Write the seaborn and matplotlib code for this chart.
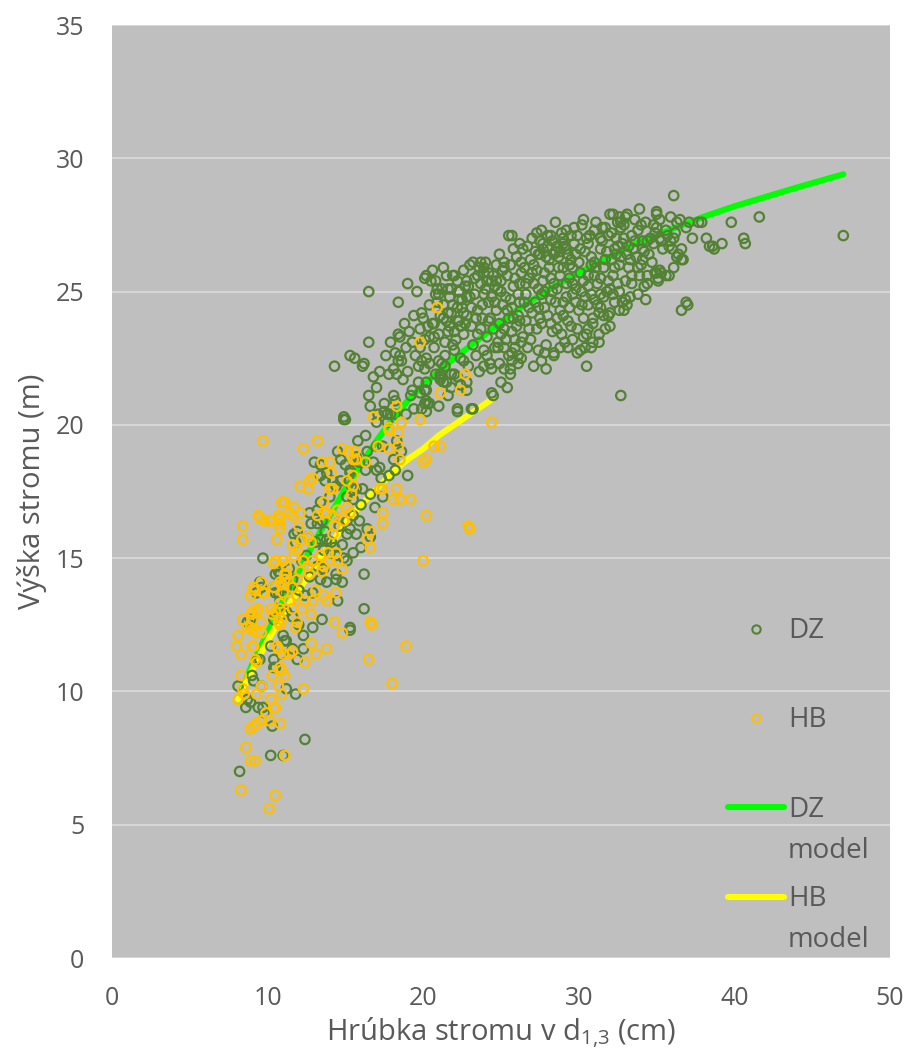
import numpy as np
import pandas as pd
import matplotlib
matplotlib.use("Agg")
import matplotlib.pyplot as plt
import seaborn as sns
from matplotlib.lines import Line2D
from matplotlib.legend_handler import HandlerLine2D

# ---------------- data ----------------
dz_points = [
    # low cluster
    (9.7,15.0),(10.7,14.5),(10.8,14.4),(9.5,14.1),(9.6,13.9),(9.3,13.7),(10.4,13.9),(10.7,13.7),(10.4,12.7),(11.0,12.9),
    (11.0,12.1),(11.1,11.9),(10.2,11.7),(10.4,11.2),(10.4,10.9),(9.5,11.2),(9.3,11.2),(9.0,10.6),(8.1,10.2),(8.7,9.7),
    (8.9,9.6),(8.6,9.4),(9.4,9.4),(9.8,9.2),(10.3,8.7),(10.2,7.6),(11.0,7.6),(8.2,7.0),(9.1,10.4),(9.6,10.2),
    (8.9,12.7),(8.7,12.6),(12.9,12.4),(15.3,12.3),(12.3,12.1),(11.2,11.9),(11.6,11.6),(12.3,11.6),(10.9,11.4),(11.9,11.2),
    (11.2,10.1),(11.8,9.9),(9.7,9.4),(12.4,8.2),(10.5,10.9),
    # 11-17 cm
    (17.0,21.4),(16.5,21.1),(18.1,21.1),(18.2,20.9),(19.3,21.3),(19.8,21.2),(20.2,21.3),(20.2,20.9),(20.1,20.8),(19.9,20.6),
    (20.4,20.8),(19.2,21.1),(17.5,20.8),(17.1,20.4),(17.7,20.4),(17.0,20.1),(14.9,20.2),(15.0,20.2),(21.0,20.7),(22.2,20.5),
    (21.1,21.7),(21.5,21.6),(16.3,19.6),(17.0,19.2),(17.4,19.2),(18.3,19.4),(16.4,19.0),(16.8,18.6),(17.0,18.3),(17.2,18.4),
    (18.1,18.7),(19.0,18.1),(13.0,18.6),(13.4,18.5),(13.7,17.9),(14.2,17.9),(15.3,18.2),(15.2,17.9),(10.5,14.4),(11.7,15.9),
    (11.9,16.0),(11.8,15.6),(12.8,16.3),(13.2,16.3),(13.5,16.4),(12.7,16.7),(13.2,16.8),(13.4,17.1),(14.0,17.3),(14.4,17.7),
    (14.7,17.9),(15.1,17.3),(15.5,17.2),(15.7,17.6),(14.7,18.7),(15.0,18.5),(15.3,18.3),(15.7,18.8),(15.9,18.6),(13.4,18.1),
    (13.8,18.2),(15.1,16.4),(15.5,16.6),(15.9,16.4),(15.3,16.1),(15.7,15.9),(15.1,15.9),(16.4,16.1),(16.6,15.8),(13.4,15.7),
    (13.8,15.7),(14.1,15.6),(14.3,15.4),(13.6,15.3),(14.0,15.2),(14.4,15.1),(15.5,15.2),(15.1,14.9),(14.4,14.4),(13.2,14.7),
    (12.7,14.3),(13.4,14.2),(13.8,14.1),(14.4,14.2),(14.5,13.4),(16.2,13.1),(12.9,13.7),(12.0,13.8),(11.2,13.9),(10.5,13.7),
    (10.8,13.4),(11.2,13.0),(11.6,12.8),(12.0,12.5),(13.5,12.7),(15.3,12.4),(12.2,14.9),(11.4,14.6),(12.5,15.1),(12.9,14.9),
    (16.2,14.4),(14.8,14.1),(16.6,17.4),(16.0,17.0),(17.4,17.3),(18.2,18.3),(16.9,16.9),
    (13.7,16.0),(14.6,16.2),(14.8,15.5),(13.1,15.6),(12.6,15.8),(14.2,16.6),(15.4,17.7),(16.1,17.6),(16.3,18.3),(14.5,19.0),
    (15.8,19.4),(13.6,14.6),(12.4,13.6),(11.6,14.2),(14.9,15.0),(16.0,15.4),(17.3,18.0),(18.6,19.0),(17.8,18.1),
    # 14-26 cm upper-left band
    (16.5,25.0),(18.4,24.6),(19.0,25.3),(20.2,25.6),(20.1,25.5),(20.5,25.4),(20.9,25.1),(20.8,24.9),(21.5,25.6),(22.0,25.6),
    (22.2,25.4),(21.6,25.1),(21.8,25.1),(22.3,25.0),(22.8,25.4),(22.9,25.2),(23.2,26.1),(23.7,26.1),(23.9,25.9),(25.2,25.9),
    (25.7,27.1),(26.2,26.8),(23.9,25.7),(24.5,25.6),(24.7,25.4),(24.1,25.4),(19.9,24.2),(20.4,24.5),(20.7,23.8),(21.1,24.1),
    (20.3,23.7),(19.8,23.6),(21.6,24.2),(22.2,24.4),(22.5,24.7),(22.8,24.8),(22.6,24.2),(22.3,23.9),(21.7,23.7),(22.0,23.5),
    (18.4,23.4),(18.5,23.3),(17.9,23.1),(18.2,22.7),(18.5,22.6),(18.6,22.4),(18.4,22.4),(16.5,23.1),(15.3,22.6),(15.6,22.5),
    (16.2,22.3),(16.1,22.2),(14.3,22.2),(19.3,23.1),(19.8,22.9),(20.1,23.2),(20.4,23.3),(19.5,22.6),(19.9,22.4),(20.2,22.5),
    (20.4,22.3),(20.1,22.1),(19.7,22.2),(21.2,22.3),(21.4,22.2),(21.1,21.8),(21.3,21.6),(21.8,21.9),(22.2,21.8),(22.8,21.6),
    (22.8,21.3),(17.8,21.9),(18.3,21.9),(18.7,21.7),(19.7,21.6),(20.2,21.6),(20.1,21.3),(16.6,20.7),(20.3,20.8),(20.2,20.5),
    (17.5,20.5),(17.9,20.4),(18.2,20.4),(17.7,20.1),(21.6,21.1),(25.0,21.6),(25.4,21.4),(24.5,21.1),(23.2,20.6),(22.2,20.6),
    (14.9,20.3),(18.9,20.4),(19.4,20.6),(25.7,22.4),(26.1,22.3),(25.6,21.9),(25.2,22.1),(24.4,22.1),(24.1,22.6),(24.3,22.3),
    (23.9,22.2),(25.2,22.9),(25.9,23.2),(26.3,23.1),(25.7,22.7),(24.8,23.1),
    (18.8,23.8),(19.4,24.1),(19.1,23.5),(18.9,22.9),(17.2,22.0),(17.6,22.6),(16.8,21.8),(19.0,22.0),(18.1,22.1),(20.7,23.3),
    (20.0,24.0),(21.0,24.9),(19.6,25.0),(20.6,25.8),(21.3,25.9),
    # right part
    (36.1,28.6),(47.0,27.1),(41.6,27.8),(39.8,27.6),(40.6,27.0),(40.7,26.8),(39.2,26.8),(38.2,27.0),(38.4,26.7),(38.7,26.6),
    (37.3,27.0),(37.0,24.5),(36.6,24.3),(37.9,27.6),(37.7,27.6),(37.1,27.6),(36.9,27.4),(35.0,27.9),(34.3,27.6),(33.9,28.1),
    (35.2,27.7),(35.0,27.4),(35.9,27.8),(36.3,27.6),(35.7,27.1),(35.9,26.9),(34.9,27.2),(34.6,27.0),(34.4,26.9),(34.8,26.8),
    (34.1,26.6),(34.1,26.2),(34.7,26.1),(36.0,26.6),(36.6,26.6),(36.4,26.4),(36.3,26.3),(36.6,26.2),(36.1,25.9),(34.4,25.6),
    (34.4,25.3),(35.0,25.7),(35.3,25.7),(35.6,25.6),(35.1,25.5),(28.5,27.6),(25.5,27.1),(32.0,27.9),(32.2,27.9),(32.6,27.8),
    (33.1,27.9),(32.5,27.6),(32.9,27.5),(32.7,27.4),(35.0,28.0),(36.5,27.7),(30.2,27.5),(31.5,27.4),(29.2,27.3),(30.7,27.1),
    (29.9,27.1),(29.5,27.1),(27.3,27.2),(28.2,27.1),(27.5,26.9),(28.0,26.7),(28.6,26.7),(29.0,26.8),(29.2,26.6),(28.8,26.5),
    (28.4,26.4),(27.7,26.6),(27.4,26.4),(35.2,27.0),(36.1,27.0),(35.8,26.7),(35.4,26.6),(38.6,26.7),(36.7,26.2),(35.2,25.8),
    (34.9,25.7),(35.1,25.4),(35.8,25.6),(36.9,24.6),(32.7,21.1),(30.5,22.2),(27.1,22.2),(25.6,22.1),(24.4,21.2),(23.1,20.6),
    (28.4,22.6),(27.8,22.7),(29.9,22.7),(30.4,22.9),(30.9,23.1),(31.3,23.1),(33.1,24.5),(32.8,24.6),(32.0,24.2),(31.4,24.4),
    (31.6,24.1),(30.9,24.0),(30.5,23.4),(30.6,23.6),
    # dense core 21-34 cm
    (20.7,22.9),(21.0,23.4),(21.3,24.0),(20.9,24.6),(21.2,25.1),(21.4,22.6),(20.6,23.8),(21.1,21.9),(21.4,23.1),(20.8,25.4),
    (21.3,24.5),(21.6,23.5),(21.8,24.2),(22.0,22.8),(22.2,23.9),(22.3,25.0),(22.5,24.4),(21.9,25.6),(22.4,22.5),(22.1,23.2),
    (21.7,24.8),(22.4,23.7),(22.0,21.9),(22.6,23.4),(22.8,24.1),(23.0,24.8),(23.2,23.0),(23.3,25.5),(23.5,24.3),(22.7,25.2),
    (23.1,23.7),(23.4,22.6),(22.9,22.2),(23.6,25.9),(23.3,24.9),(23.0,26.0),(23.7,23.6),(23.8,24.5),(24.0,25.1),(24.1,23.3),
    (24.3,24.0),(24.4,24.8),(24.2,25.7),(23.9,22.8),(24.5,23.6),(24.0,26.1),(24.3,22.3),(24.6,25.2),(23.8,24.0),(24.7,24.3),
    (24.9,23.8),(25.0,25.0),(25.1,24.5),(25.3,23.2),(25.4,25.6),(25.2,26.1),(24.8,22.9),(25.5,24.0),(25.0,25.4),(25.3,24.8),
    (24.9,26.4),(25.5,22.6),(25.2,23.6),(24.8,25.1),(25.7,24.4),(25.8,25.2),(26.0,23.7),(26.1,24.9),(26.3,25.7),(26.4,23.3),
    (26.0,26.3),(25.9,22.9),(26.5,24.6),(26.2,25.3),(25.6,26.0),(26.4,26.6),(26.1,24.1),(25.7,23.5),(26.3,22.5),(26.6,24.9),
    (26.8,25.5),(27.0,24.2),(27.1,26.0),(27.3,23.6),(27.4,25.1),(26.7,26.7),(27.2,24.6),(26.9,23.2),(27.5,26.4),(27.0,27.0),
    (27.3,25.8),(26.6,23.9),(27.4,22.8),(26.8,24.4),(27.6,24.9),(27.8,25.7),(28.0,24.1),(28.1,26.2),(28.3,23.5),(28.4,25.3),
    (27.7,26.8),(28.2,24.7),(27.9,23.0),(28.5,26.5),(28.0,27.1),(28.3,25.0),(27.6,23.8),(28.4,22.7),(27.8,24.4),(28.1,25.9),
    (28.6,25.1),(28.8,24.3),(29.0,25.9),(29.1,26.7),(29.3,23.9),(29.4,25.5),(28.7,26.3),(29.2,24.8),(28.9,23.4),(29.5,26.2),
    (29.0,27.0),(29.3,22.9),(28.6,24.0),(29.4,24.4),(28.8,25.6),(29.1,23.1),(29.6,25.3),(29.8,24.6),(30.0,26.1),(30.1,25.7),
    (30.3,24.0),(30.4,26.5),(29.7,26.8),(30.2,25.0),(29.9,23.6),(30.5,27.0),(30.0,24.3),(30.3,23.3),(29.6,25.9),(30.4,24.8),
    (30.1,22.8),(30.6,25.6),(30.8,26.3),(31.0,24.7),(31.1,25.9),(31.3,24.2),(31.4,26.6),(30.7,27.1),(31.2,25.3),(30.9,23.8),
    (31.5,26.9),(31.0,27.3),(31.3,23.4),(30.6,24.5),(31.4,25.5),(30.8,26.0),(31.6,25.9),(31.8,26.5),(32.0,25.1),(32.1,26.2),
    (32.3,24.6),(32.4,27.0),(31.7,27.4),(32.2,25.6),(31.9,24.1),(32.5,26.7),(32.0,23.7),(32.3,25.9),(31.6,24.8),(32.4,26.4),
    (32.6,26.0),(32.8,26.8),(33.0,25.4),(33.1,26.4),(33.3,24.8),(33.4,27.1),(32.7,27.6),(33.2,25.9),(32.9,24.3),(33.5,26.6),
    (33.0,27.8),(33.3,26.2),(32.6,25.0),(33.7,26.3),(33.9,25.6),(34.1,26.9),(34.3,24.7),(33.8,27.3),(34.2,25.2),(34.0,26.0),
    (33.6,27.7),
    (21.9,24.5),(22.6,25.8),(23.4,24.0),(23.7,25.3),(24.2,24.6),(24.6,22.9),(25.1,25.8),(25.6,24.7),(25.9,25.5),(26.2,23.9),
    (26.5,25.9),(26.8,23.6),(27.1,25.3),(27.2,26.5),(27.5,24.0),(27.7,25.4),(27.9,26.3),(28.2,23.8),(28.5,24.6),(28.7,25.9),
    (29.0,24.6),(29.2,25.3),(29.5,23.7),(29.6,24.9),(29.8,26.4),(30.1,26.6),(30.3,25.4),(30.6,26.8),(30.8,24.9),(31.0,26.1),
    (31.2,24.5),(31.4,27.0),(31.7,26.2),(31.9,25.4),(32.1,27.2),(32.3,26.6),(32.5,25.3),(32.7,26.3),(32.9,27.0),(33.2,26.7),
    (33.4,25.6),(33.6,26.9),(33.8,24.9),(34.0,27.5),(34.2,26.5),(34.5,26.4),(34.8,27.5),(35.3,26.9),(35.6,27.3),(36.2,27.2),
    (21.0,22.4),(21.5,23.9),(21.9,23.0),(22.3,24.7),(22.7,23.8),(23.1,24.4),(23.5,23.4),(23.9,24.9),(24.2,23.9),(24.6,24.6),
    (25.0,23.4),(25.4,24.3),(25.8,24.0),(26.2,24.6),(26.6,25.3),(27.0,25.7),(27.4,24.4),(27.8,25.0),(28.2,25.5),(28.6,23.6),
    (29.0,24.1),(29.4,26.0),(29.8,25.1),(30.2,24.5),(30.6,25.2),(31.0,25.6),(31.4,24.9),(31.8,25.0),(32.2,24.9),(32.6,24.3),
    (33.0,24.7),(33.4,25.3),(33.8,25.9),(26.9,26.2),(27.6,27.3),(28.3,26.9),(29.7,27.4),(30.3,27.7),(31.1,27.6),(31.9,27.1),
    (29.3,26.4),(28.9,27.2),(26.3,26.1),(25.8,26.6),(24.7,26.0),(24.4,25.4),(23.5,25.6),(26.7,22.9),(27.6,22.4),(28.8,22.9),
    (29.6,23.2),(30.8,22.9),(31.7,23.6),(27.9,22.1),(26.1,22.6),(24.9,22.3),(23.6,22.0),(22.6,22.4),(22.4,21.5),(21.8,21.4),
    (20.8,21.9),
]

hb_points = [
    (9.7,19.4),(10.9,17.1),(11.1,17.1),(9.5,16.5),(9.8,16.4),(10.2,16.4),(10.8,16.5),(10.8,16.3),(10.8,16.1),(8.4,16.2),
    (8.4,15.7),(10.6,15.7),(10.4,14.8),(11.0,14.9),(11.2,14.7),(8.9,13.6),(9.1,13.8),(9.6,14.1),(9.8,13.7),(10.8,14.1),
    (11.1,14.4),(9.0,13.0),(9.3,13.0),(8.4,12.7),(8.7,12.4),(9.0,12.3),(9.6,12.6),(10.2,13.1),(10.5,13.0),(10.8,13.3),
    (10.9,12.7),(10.7,12.6),(8.1,12.1),(8.0,11.7),(8.3,11.4),(9.0,11.7),(9.3,12.2),(9.6,12.2),(10.6,11.7),(10.7,11.6),
    (11.0,11.4),(10.8,10.9),(11.1,10.6),(10.3,10.6),(8.3,10.6),(8.4,10.1),(8.1,9.7),(9.3,9.9),(9.6,10.2),(10.2,9.7),
    (10.7,10.2),(10.9,9.9),(10.5,9.4),(9.9,9.2),(10.1,8.9),(9.6,8.9),(9.3,8.8),(8.9,8.6),(9.1,8.7),(10.8,8.8),
    (8.6,7.9),(8.9,7.4),(9.2,7.4),(11.1,7.6),(8.3,6.3),(10.5,6.1),(10.1,5.6),
    (8.9,12.4),(10.8,12.5),(11.8,12.4),(14.3,12.6),(16.7,12.5),(14.8,12.2),(9.1,11.7),(11.4,11.4),(11.6,11.5),
    (12.8,11.8),(13.1,11.4),(13.8,11.6),(12.4,11.1),(9.2,11.2),(9.3,11.1),(10.9,10.8),(12.3,10.1),(8.5,9.9),(10.4,9.4),
    (16.5,11.2),(18.0,10.3),(18.9,11.7),
    (16.8,20.3),(18.3,20.7),(21.1,21.2),(22.4,21.3),(19.8,20.2),(18.6,20.1),(18.4,19.7),(17.8,19.8),(13.2,19.4),(12.3,19.1),
    (14.8,19.1),(15.2,19.0),(15.6,19.0),(15.7,18.7),(15.5,18.7),(16.3,18.6),(13.5,18.6),(14.0,18.6),(14.1,18.2),(17.1,19.2),
    (17.8,19.1),(18.4,19.2),(18.5,18.7),(20.0,18.6),(20.2,18.7),(20.7,19.2),(21.1,19.2),(12.7,17.9),(12.9,18.0),(12.1,17.7),
    (12.6,17.6),(15.1,17.9),(15.5,18.1),(15.5,17.7),(15.4,17.4),(14.0,17.6),(14.2,17.6),(11.7,16.9),(11.4,16.7),(12.1,16.7),
    (11.6,16.6),(9.4,16.6),(10.1,16.4),(10.7,16.6),(12.0,16.2),(12.6,15.8),(12.2,15.7),(12.8,15.6),(13.2,16.6),(13.6,17.1),
    (13.8,16.7),(14.2,16.6),(13.6,16.7),(14.5,16.8),(15.1,16.9),(15.3,16.7),(14.9,16.4),(14.3,16.2),(14.2,15.9),(16.6,16.0),
    (16.4,15.7),(16.6,15.4),(17.4,16.7),(17.4,16.3),(17.2,17.6),(17.4,17.6),(18.3,17.6),(18.1,17.2),(18.5,17.2),(19.2,17.2),
    (20.2,16.6),(20.0,14.9),(22.9,16.2),(10.5,14.9),(11.7,15.1),(11.9,15.3),(11.6,15.5),(12.3,14.9),(12.6,14.7),(12.9,14.9),
    (13.4,15.1),(13.6,14.7),(13.9,15.2),(14.4,15.2),(14.5,14.9),(14.0,14.9),(12.1,14.5),(12.7,14.4),(13.5,14.5),(14.8,14.6),
    (11.2,14.4),(11.9,14.2),(11.6,13.9),(11.1,14.2),(9.1,13.9),(9.7,13.7),(10.4,13.9),(10.9,14.0),(11.0,13.7),(11.4,13.4),
    (11.9,13.6),(12.4,13.4),(12.9,13.4),(13.1,13.8),(13.6,13.6),(13.8,13.4),(14.4,13.7),(10.8,13.1),(11.6,13.1),(12.2,13.1),
    (12.8,12.9),(9.0,12.9),(9.4,13.1),(10.3,12.9),(11.9,12.6),(16.6,12.6),
    (20.9,24.4),(19.8,23.1),(22.7,21.9),(17.8,19.9),(24.4,20.1),(23.0,16.1),
]

dz_model_d = [8.1, 9.0, 10.0, 11.0, 12.0, 13.0, 14.0, 15.0, 16.0, 17.0, 18.0, 19.0, 20.0, 22.0, 24.0,
              26.0, 28.0, 30.0, 32.0, 34.0, 36.0, 38.0, 40.0, 42.0, 44.0, 47.0]
dz_model_h = [9.7, 11.0, 12.2, 13.4, 14.5, 15.6, 16.6, 17.6, 18.5, 19.4, 20.2, 20.9, 21.5, 22.5, 23.4,
              24.3, 25.05, 25.7, 26.3, 26.9, 27.35, 27.8, 28.2, 28.55, 28.9, 29.4]
hb_model_d = [8.1, 9.0, 10.0, 11.0, 12.0, 13.0, 14.0, 15.0, 16.0, 17.0, 18.0, 19.0, 20.0, 21.0, 22.0, 23.0, 24.4]
hb_model_h = [9.7, 10.8, 11.9, 12.9, 13.8, 14.7, 15.5, 16.3, 17.0, 17.6, 18.2, 18.7, 19.1, 19.6, 20.0, 20.4, 20.95]

x_ticks = [0, 10, 20, 30, 40, 50]
y_ticks = [0, 5, 10, 15, 20, 25, 30, 35]
series_labels = ["DZ", "HB", "DZ\nmodel", "HB\nmodel"]

# ---------------- style ----------------
sns.set_theme(style="white")
plt.rcParams["font.family"] = ["Open Sans", "DejaVu Sans"]
plt.rcParams["mathtext.fontset"] = "custom"
plt.rcParams["mathtext.rm"] = "Open Sans"
plt.rcParams["mathtext.it"] = "Open Sans:italic"

TXT = "#595959"
C_DZ = "#548235"
C_HB = "#FFC000"
C_DZM = "#00FF00"
C_HBM = "#FFFF00"

fig = plt.figure(figsize=(9.07, 10.61), dpi=100)
ax = fig.add_axes([112 / 907, 1 - 958 / 1061, (890 - 112) / 907, (958 - 25) / 1061])
ax.set_facecolor("#BFBFBF")

dz = pd.DataFrame(dz_points, columns=["d", "h"])
hb = pd.DataFrame(hb_points, columns=["d", "h"])
dzm = pd.DataFrame({"d": dz_model_d, "h": dz_model_h})
hbm = pd.DataFrame({"d": hb_model_d, "h": hb_model_h})

sns.lineplot(data=dzm, x="d", y="h", ax=ax, color=C_DZM, lw=4.4, estimator=None,
             sort=False, solid_capstyle="round", zorder=2, legend=False)
sns.lineplot(data=hbm, x="d", y="h", ax=ax, color=C_HBM, lw=4.4, estimator=None,
             sort=False, solid_capstyle="round", zorder=2.1, legend=False)
sns.scatterplot(data=dz, x="d", y="h", ax=ax, marker="o", s=46, facecolor="none",
                edgecolor=C_DZ, linewidth=1.6, zorder=3, legend=False)
sns.scatterplot(data=hb, x="d", y="h", ax=ax, marker="o", s=46, facecolor="none",
                edgecolor=C_HB, linewidth=1.6, zorder=3.1, legend=False)

ax.set_xlim(0, 50)
ax.set_ylim(0, 35)
ax.set_xticks(x_ticks)
ax.set_yticks(y_ticks)
ax.grid(axis="y", color="#D9D9D9", lw=1.3)
ax.grid(axis="x", visible=False)
ax.set_axisbelow(True)
for s in ax.spines.values():
    s.set_visible(False)
ax.tick_params(axis="both", length=0, labelsize=18, colors=TXT)
ax.tick_params(axis="y", pad=20)
ax.tick_params(axis="x", pad=20)

ax.set_xlabel("Hrúbka stromu v d$_{1{,}3}$ (cm)", fontsize=21, color=TXT, labelpad=3)
ax.set_ylabel("Výška stromu (m)", fontsize=21, color=TXT, labelpad=6)


class FirstLineHandler(HandlerLine2D):
    def __init__(self, shift, **kw):
        super().__init__(**kw)
        self.shift = shift

    def create_artists(self, legend, orig_handle, xdescent, ydescent, width, height, fontsize, trans):
        arts = super().create_artists(legend, orig_handle, xdescent, ydescent, width, height, fontsize, trans)
        for a in arts:
            a.set_ydata(np.asarray(a.get_ydata(), dtype=float) + self.shift)
        return arts


handles = [
    Line2D([], [], ls="none", marker="o", ms=6.0, mfc="none", mec=C_DZ, mew=1.5),
    Line2D([], [], ls="none", marker="o", ms=6.0, mfc="none", mec=C_HB, mew=1.5),
    Line2D([], [], color=C_DZM, lw=4.4, solid_capstyle="round"),
    Line2D([], [], color=C_HBM, lw=4.4, solid_capstyle="round"),
]
labels = [series_labels[0] + "\n ", series_labels[1] + "\n ", series_labels[2], series_labels[3]]
leg = ax.legend(handles, labels, handler_map={Line2D: FirstLineHandler(17.0)},
                loc="upper left", bbox_to_anchor=(0.792, 0.3655), frameon=False,
                fontsize=20, handlelength=2.0, handletextpad=0.15, labelspacing=0.73,
                borderpad=0, borderaxespad=0, labelcolor=TXT)
for t in leg.get_texts():
    t.set_linespacing(1.62)

fig.savefig("out.png", dpi=100, facecolor="white")
